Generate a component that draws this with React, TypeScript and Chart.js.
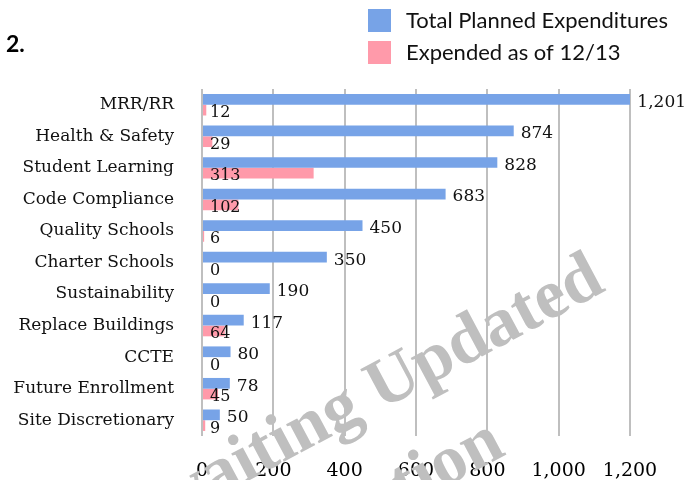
import React, { useEffect, useRef } from "react";
import { Chart, registerables } from "chart.js";

Chart.register(...registerables);

const categories = [
  "MRR/RR",
  "Health & Safety",
  "Student Learning",
  "Code Compliance",
  "Quality Schools",
  "Charter Schools",
  "Sustainability",
  "Replace Buildings",
  "CCTE",
  "Future Enrollment",
  "Site Discretionary",
];
const totalPlanned = [1201, 874, 828, 683, 450, 350, 190, 117, 80, 78, 50];
const expended = [12, 29, 313, 102, 6, 0, 0, 64, 0, 45, 9];
const xTickValues = [0, 200, 400, 600, 800, 1000, 1200];
const seriesNames = ["Total Planned Expenditures", "Expended as of 12/13"];
const heading = "2.";
const watermarkLines = ["Awaiting Updated", "Information"];

const BLUE = "#77a3e7";
const PINK = "#ff9aaa";
const SERIF = '"DejaVu Serif", serif';
const SANS = 'Lato, "Open Sans", sans-serif';

const fmt = (v: number) => v.toLocaleString("en-US");

const decorPlugin = {
  id: "decor",
  afterDatasetsDraw(chart: any) {
    const ctx = chart.ctx as CanvasRenderingContext2D;
    const xs = chart.scales.x;
    ctx.save();
    ctx.fillStyle = "#111";
    ctx.textAlign = "left";
    ctx.textBaseline = "middle";
    ctx.font = `17px ${SERIF}`;
    chart.getDatasetMeta(0).data.forEach((bar: any, i: number) => {
      ctx.fillText(fmt(totalPlanned[i]), bar.x + 7, bar.y + 3);
    });
    ctx.font = `16px ${SERIF}`;
    chart.getDatasetMeta(1).data.forEach((bar: any, i: number) => {
      ctx.fillText(fmt(expended[i]), xs.getPixelForValue(0) + 8, bar.y + 3);
    });
    ctx.restore();
  },
  afterDraw(chart: any) {
    const ctx = chart.ctx as CanvasRenderingContext2D;
    ctx.save();
    // heading
    ctx.fillStyle = "#000";
    ctx.font = `bold 23px ${SANS}`;
    ctx.textAlign = "left";
    ctx.textBaseline = "alphabetic";
    ctx.fillText(heading, 6, 52);
    // legend
    const colors = [BLUE, PINK];
    const rows = [9, 41];
    ctx.font = `22px ${SANS}`;
    ctx.textBaseline = "middle";
    seriesNames.forEach((name, i) => {
      ctx.fillStyle = colors[i];
      ctx.fillRect(368, rows[i], 23, 23);
      ctx.fillStyle = "#111";
      ctx.fillText(name, 406, rows[i] + 12);
    });
    // watermark
    ctx.fillStyle = "#bfbfbf";
    ctx.font = `bold 70px "Liberation Serif", serif`;
    ctx.translate(607, 290);
    ctx.rotate((-28 * Math.PI) / 180);
    ctx.textAlign = "right";
    ctx.textBaseline = "alphabetic";
    ctx.fillText(watermarkLines[0], 0, 0);
    ctx.fillText(watermarkLines[1], -165, 98);
    ctx.restore();
  },
};

export default function App() {
  const ref = useRef<HTMLCanvasElement | null>(null);
  useEffect(() => {
    if (!ref.current) return;
    const chart = new Chart(ref.current, {
      type: "bar",
      data: {
        labels: categories,
        datasets: [
          {
            label: seriesNames[0],
            data: totalPlanned,
            backgroundColor: BLUE,
            categoryPercentage: 0.68,
            barPercentage: 1,
          },
          {
            label: seriesNames[1],
            data: expended,
            backgroundColor: PINK,
            categoryPercentage: 0.68,
            barPercentage: 1,
          },
        ],
      },
      options: {
        indexAxis: "y",
        responsive: false,
        animation: false,
        layout: { padding: { top: 89, right: 61, left: 0, bottom: 0 } },
        plugins: { legend: { display: false }, tooltip: { enabled: false } },
        scales: {
          x: {
            min: 0,
            max: 1200,
            afterBuildTicks: (axis: any) => {
              axis.ticks = xTickValues.map((v) => ({ value: v }));
            },
            afterFit: (axis: any) => {
              axis.height = 44;
            },
            grid: { color: "#bfbfbf", lineWidth: 2, drawTicks: false },
            border: { display: false },
            ticks: {
              padding: 24,
              color: "#000",
              font: { family: SERIF, size: 19 },
              callback: (v: any) => fmt(Number(v)),
            },
          },
          y: {
            afterFit: (axis: any) => {
              axis.width = 202;
            },
            grid: { display: false, drawTicks: false },
            border: { display: false },
            ticks: {
              padding: 28,
              color: "#111",
              font: { family: SERIF, size: 17 },
            },
          },
        },
      },
      plugins: [decorPlugin],
    } as any);
    return () => chart.destroy();
  }, []);
  return (
    <div style={{ position: "absolute", left: 0, top: 0, width: 691, height: 480, background: "#fff" }}>
      <canvas ref={ref} width={691} height={480} />
    </div>
  );
}
